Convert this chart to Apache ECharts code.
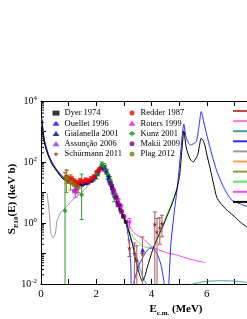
<!DOCTYPE html>
<html><head><meta charset="utf-8">
<script src="https://cdn.jsdelivr.net/npm/echarts@6.0.0/dist/echarts.min.js"></script>
<style>html,body{margin:0;padding:0;background:#fff}#c{width:247px;height:319px}</style>
</head><body><div id="c"></div>
<script>
// ---------- tick labels ----------
const xTickLabels = [0, 2, 4, 6];
const yDecadeLabels = [-2, 0, 2, 4];

// ---------- model curves ----------
const blackE = [0.03,0.06,0.11,0.18,0.29,0.4,0.55,0.76,0.95,1.13,1.38,1.6,1.75,1.9,2.0,2.11,2.19,2.25,2.32,2.4,2.5,2.58,2.7,2.84,3.0,3.09,3.2,3.33,3.45,3.57,3.67,3.76,3.85,4.04,4.2,4.4,4.6,4.76,4.91,5.02,5.1,5.17,5.26,5.38,5.5,5.67,5.8,5.87,5.93,6.0,6.11,6.2,6.36,6.5,6.7,6.95,7.2,7.45];
const blackS = [2400,1150,525,270,145,85,55,30,23,19,18,20,22,28,35,55,66,69,55,35,20,12,6.5,3.3,1.5,1.0,0.47,0.17,0.049,0.02,0.012,0.018,0.036,0.13,0.3,0.74,2.0,4.6,12,37,245,1050,290,135,100,170,600,500,360,180,69,30,7,4.5,2.8,1.8,1.1,0.74];

const blueE = [0.03,0.11,0.29,0.55,0.95,1.38,1.75,2.0,2.11,2.25,2.4,2.58,2.84,3.0,3.09,3.2,3.25,3.28,3.33,3.37,3.45,3.56,3.67,3.82,3.95,4.04,4.2,4.35,4.45,4.49,4.58,4.63,4.7,4.8,4.9,4.98,5.08,5.17,5.26,5.41,5.62,5.72,5.8,5.93,6.11,6.35,6.6,6.9,7.2,7.45];
const blueS = [2600,580,155,58,24,19,23,37,58,75,37,12.5,3.3,1.4,0.9,0.19,0.04,0.004,0.004,0.012,0.022,0.045,0.07,0.12,0.15,0.15,0.1,0.04,0.012,0.004,0.004,0.012,0.2,1.5,8,37,360,1740,610,360,470,1500,4470,1440,316,55,15.5,5.6,4.3,3.5];

const magentaE = [0.03,0.11,0.29,0.55,0.95,1.38,1.75,2.0,2.11,2.25,2.4,2.58,2.84,3.0,3.1,3.2,3.4,3.67,4.04,4.5,4.91,5.4,5.95];
const magentaS = [2700,600,160,60,25,20,24,37,58,73,37,12.8,3.4,1.6,1.05,0.72,0.45,0.32,0.16,0.11,0.089,0.065,0.05];

const greenE = [0.03,0.11,0.29,0.55,0.95,1.38,1.75,2.0,2.11,2.25,2.4,2.58,2.84,3.09,3.2,3.4,3.6,3.8,4.04,4.2,4.35,4.5,4.7,4.9];
const greenS = [2200,480,135,50,21,16.5,20.5,33,53,66,33,11.5,3.2,1.0,0.55,0.3,0.2,0.16,0.16,0.3,0.6,1.4,3.9,12];

const tealE = [0.03,0.11,0.29,0.55,0.95,1.38,1.75,2.0,2.11,2.25,2.4,2.58,2.84,3.09,3.2,3.32,3.45,3.56,3.7,3.81,3.9,5.2,5.45,5.9,6.5,7.0,7.45];
const tealS = [2300,500,140,52,22,17,21,34,54,67,34,11.6,3.2,0.97,0.45,0.21,0.08,0.037,0.016,0.0105,0.005,0.005,0.0095,0.012,0.0128,0.0125,0.0113];

const grayE = [0.22,0.3,0.36,0.44,0.52,0.58,0.73,0.91,1.13,1.45,1.75,2.0,2.11,2.25,2.4,2.58,2.84,3.09,3.2];
const grayS = [9.5,2.2,0.45,0.32,0.45,1.2,2.3,3.3,5.6,9.5,19,34,54,68,34,12,3.3,1.0,0.47];

const bundleE = [0.03,0.11,0.29,0.55,0.95,1.38,1.75,2.0,2.11,2.25,2.4,2.58,2.84,3.09,3.2];
const redS    = [2500,560,150,57,24,19,23,36,57,72,36,12.5,3.4,1.05,0.5];
const pinkS   = [2300,500,140,52,22,17,21,34,54,67,34,11.5,3.2,0.95,0.45];
const orangeS = [2450,540,148,56,23.5,18.5,22.5,35.5,56,70,35.5,12.2,3.35,1.02,0.48];
const oliveS  = [2350,510,142,54,22.5,17.5,21.5,34.5,54.5,68,34.5,11.8,3.25,0.98,0.46];

// ---------- data sets ----------
const dyerE = [1.42,1.6,1.8,1.95,2.08,2.17,2.27,2.37,2.47,2.57,2.67,2.77,2.87,2.97,3.07];
const dyerS = [19,20,24,32,50,64,66,45,25,14,8,4.6,2.8,1.7,1.1];

const ouelletE = [1.32,1.5,1.7,1.9,2.05,2.2,2.32,2.45,2.62,2.78,3.68];
const ouelletS = [18,20,22,28,44,68,62,30,10,4.2,0.13];

const gialE = [1.27,1.45,1.62,1.82,2.02,2.15,2.28,2.42,2.55,2.7,2.82];
const gialS = [17,18,21,25,40,62,70,34,16,7,3.8];

const assuE = [1.22,1.3,2.22,2.35,2.5,2.62,2.72,2.82,2.92];
const assuS = [11,12.5,75,55,22,11,6.5,3.9,2.4];

const schuE  = [2.52,2.66,2.8,3.2,3.38,3.47,3.67,4.12,4.2,4.3,4.38];
const schuS  = [22,9,4.2,0.15,0.1,0.06,0.1,0.9,0.5,0.7,0.95];
const schuLo = [18,7,3.4,0.08,0.001,0.001,0.001,0.001,0.001,0.2,0.35];
const schuHi = [26,11,5,0.28,0.22,0.18,0.35,2.3,1.4,1.5,1.8];

const redderE  = [0.93,1.03,1.12,1.22,1.32,1.42,1.52,1.62,1.72,1.82,1.92,2.02,2.12];
const redderS  = [32,26,27,22,20,24,22,25,24,28,33,46,58];
const redderLo = [20,20,21,18,16,20,18,21,20,24,28,40,52];
const redderHi = [55,34,34,27,25,29,26,30,28,33,38,52,65];

const rotersE  = [1.24,1.3,2.6,2.7,2.8,2.9,3.2];
const rotersS  = [10,12,12,8,5.2,3.2,1.0];
const rotersLo = [7,9,10,6.5,4.2,2.5,0.7];
const rotersHi = [13,15,14,9.5,6.3,4,1.4];

const kunzE  = [0.87,1.47,2.02,2.2,2.28,2.4,2.5,2.65];
const kunzS  = [2.5,8.5,38,82,70,42,25,7.5];
const kunzLo = [0.001,1.3,28,65,50,28,18,5];
const kunzHi = [45,40,50,100,90,58,33,10];

const makiiE = [2.52,2.62,2.72,2.82,2.92,3.0];
const makiiS = [20,12,7,4,2.4,1.6];

const plagE  = [0.92,1.07,1.2,1.35];
const plagS  = [30,22,18,15];
const plagLo = [10,12,11,10];
const plagHi = [52,38,28,22];

// ---------- build ----------
const SERIF = "'Liberation Serif','DejaVu Serif',serif";
const pairs = (xs, ys) => xs.map((x, i) => [x, ys[i]]);
const triples = (xs, lo, hi) => xs.map((x, i) => [x, lo[i], hi[i]]);

function curve(name, xs, ys, color) {
  return { name, type: 'line', data: pairs(xs, ys), showSymbol: false, symbol: 'none',
    smooth: 0.2, clip: true, z: 2, lineStyle: { color, width: 1 }, itemStyle: { color } };
}
function pts(name, xs, ys, color, symbol, rot, size) {
  return { name, type: 'scatter', data: pairs(xs, ys), symbol, symbolRotate: rot || 0,
    symbolSize: size || 4.5, itemStyle: { color }, z: 5, clip: true };
}
function errs(xs, lo, hi, color) {
  return { type: 'custom', data: triples(xs, lo, hi), clip: true, z: 4,
    encode: { x: 0, y: [1, 2] },
    renderItem: function (params, api) {
      const x = api.value(0);
      const a = api.coord([x, api.value(1)]);
      const b = api.coord([x, api.value(2)]);
      const w = 2;
      return { type: 'group', children: [
        { type: 'line', shape: { x1: a[0], y1: a[1], x2: b[0], y2: b[1] }, style: { stroke: color, lineWidth: 1 } },
        { type: 'line', shape: { x1: b[0] - w, y1: b[1], x2: b[0] + w, y2: b[1] }, style: { stroke: color, lineWidth: 1 } },
        { type: 'line', shape: { x1: a[0] - w, y1: a[1], x2: a[0] + w, y2: a[1] }, style: { stroke: color, lineWidth: 1 } }
      ] };
    } };
}
// log minor ticks (2..9 per decade) on the left axis
const minorVals = [];
for (let d = -2; d < 4; d++) for (let m = 2; m <= 9; m++) minorVals.push([0, m * Math.pow(10, d)]);
const minorTicks = { type: 'custom', data: minorVals, clip: false, z: 6, silent: true,
  renderItem: function (params, api) {
    const p = api.coord([api.value(0), api.value(1)]);
    return { type: 'line', shape: { x1: p[0], y1: p[1], x2: p[0] + 3, y2: p[1] }, style: { stroke: '#000', lineWidth: 1 } };
  } };

const STAR = 'path://M50,0 L61,35 L98,35 L68,57 L79,91 L50,70 L21,91 L32,57 L2,35 L39,35 Z';

const C = { red: '#cc4444', pink: '#ff77cc', teal: '#3f9f9f', blue: '#2a2aff', gray: '#9a9a9a',
  orange: '#ff9f4a', olive: '#999933', green: '#55ee55', magenta: '#ff44ff', black: '#000000' };

const series = [
  curve('m-red', bundleE, redS, C.red),
  curve('m-pink', bundleE, pinkS, C.pink),
  curve('m-orange', bundleE, orangeS, C.orange),
  curve('m-olive', bundleE, oliveS, C.olive),
  curve('m-teal', tealE, tealS, C.teal),
  curve('m-gray', grayE, grayS, C.gray),
  curve('m-green', greenE, greenS, C.green),
  curve('m-magenta', magentaE, magentaS, C.magenta),
  curve('m-blue', blueE, blueS, C.blue),
  curve('m-black', blackE, blackS, C.black),
  errs(schuE, schuLo, schuHi, '#a85a5a'),
  errs(redderE, redderLo, redderHi, '#ee3333'),
  errs(rotersE, rotersLo, rotersHi, '#ff33ff'),
  errs(kunzE, kunzLo, kunzHi, '#2a9a2a'),
  errs(plagE, plagLo, plagHi, '#8a8a22'),
  pts('Dyer 1974', dyerE, dyerS, '#000000', 'rect', 0, 4),
  pts('Ouellet 1996', ouelletE, ouelletS, '#0000ff', 'triangle', 0, 5),
  pts('Gialanella 2001', gialE, gialS, '#000080', 'triangle', 90, 5),
  pts('Assunção 2006', assuE, assuS, '#8a2be2', 'triangle', -90, 5),
  pts('Schürmann 2011', schuE, schuS, '#8b1a1a', STAR, 0, 5),
  pts('Redder 1987', redderE, redderS, '#ff0000', 'circle', 0, 5),
  pts('Roters 1999', rotersE, rotersS, '#ff00ff', 'triangle', 180, 5),
  pts('Kunz 2001', kunzE, kunzS, '#119911', 'diamond', 0, 5),
  pts('Makii 2009', makiiE, makiiS, '#800080', 'circle', 0, 5),
  pts('Plag 2012', plagE, plagS, '#808000', 'circle', 0, 5),
  minorTicks
];

const legendText = { fontFamily: SERIF, fontSize: 8.5, color: '#000', lineHeight: 10.2 };
const option = {
  animation: false,
  backgroundColor: '#fff',
  grid: { left: 41, top: 101, width: 221, height: 183, containLabel: false, outerBoundsMode: 'none' },
  xAxis: [
    { type: 'value', min: 0, max: 8, interval: 1, position: 'bottom',
      axisLine: { onZero: false, lineStyle: { color: '#000', width: 1 } },
      axisTick: { inside: true, length: 5, lineStyle: { color: '#000' } },
      splitLine: { show: false },
      axisLabel: { fontFamily: SERIF, fontSize: 11, color: '#000', margin: 5,
        formatter: v => (xTickLabels.indexOf(v) >= 0 ? String(v) : '') } },
    { type: 'value', min: 0, max: 8, interval: 1, position: 'top',
      axisLine: { onZero: false, lineStyle: { color: '#000', width: 1 } },
      axisTick: { inside: true, length: 5, lineStyle: { color: '#000' } },
      splitLine: { show: false }, axisLabel: { show: false } }
  ],
  yAxis: [
    { type: 'log', logBase: 10, min: 0.01, max: 10000, interval: 1,
      axisLine: { show: true, lineStyle: { color: '#000', width: 1 } },
      axisTick: { show: true, inside: true, length: 5, lineStyle: { color: '#000' } },
      splitLine: { show: false }, minorTick: { show: false },
      axisLabel: { fontFamily: SERIF, fontSize: 10, color: '#000', margin: 4,
        formatter: function (v) {
          const e = Math.round(Math.log10(v));
          return yDecadeLabels.indexOf(e) >= 0 ? '10{sup|' + e + '}' : '';
        },
        rich: { sup: { fontFamily: SERIF, fontSize: 7, color: '#000', verticalAlign: 'top', padding: [0, 0, 5, 0] } } } }
  ],
  legend: [
    { data: ['Dyer 1974', 'Ouellet 1996', 'Gialanella 2001', 'Assunção 2006', 'Schürmann 2011'],
      orient: 'vertical', left: 52.5, top: 108, padding: 0, itemGap: 0, itemWidth: 7, itemHeight: 5,
      textStyle: legendText, selectedMode: false },
    { data: ['Redder 1987', 'Roters 1999', 'Kunz 2001', 'Makii 2009', 'Plag 2012'],
      orient: 'vertical', left: 128.5, top: 108, padding: 0, itemGap: 0, itemWidth: 7, itemHeight: 5,
      textStyle: legendText, selectedMode: false },
    { data: ['m-red', 'm-pink', 'm-teal', 'm-blue', 'm-gray', 'm-orange', 'm-olive', 'm-green', 'm-magenta', 'm-black'],
      orient: 'vertical', left: 233, top: 110, padding: 0, itemGap: 8.1, itemWidth: 22, itemHeight: 2,
      icon: 'rect', formatter: () => '', textStyle: { fontSize: 1, lineHeight: 2 }, selectedMode: false }
  ],
  graphic: [
    { type: 'text', x: 176, y: 309, z: 10,
      style: { text: '{b|E}{s|c.m.}{b| (MeV)}', align: 'center', verticalAlign: 'middle',
        rich: { b: { fontFamily: SERIF, fontWeight: 'bold', fontSize: 11, lineHeight: 15, fill: '#000' },
                s: { fontFamily: SERIF, fontWeight: 'bold', fontSize: 7, lineHeight: 8, verticalAlign: 'bottom', fill: '#000' } } } },
    { type: 'text', x: 12, y: 199, rotation: Math.PI / 2, z: 10,
      style: { text: '{b|S}{s|E10}{b|(E) (keV b)}', align: 'center', verticalAlign: 'middle',
        rich: { b: { fontFamily: SERIF, fontWeight: 'bold', fontSize: 11, lineHeight: 15, fill: '#000' },
                s: { fontFamily: SERIF, fontWeight: 'bold', fontSize: 7, lineHeight: 8, verticalAlign: 'bottom', fill: '#000' } } } }
  ],
  series
};
const chart = echarts.init(document.getElementById('c'), null, { renderer: 'canvas' });
chart.setOption(option);
</script></body></html>
